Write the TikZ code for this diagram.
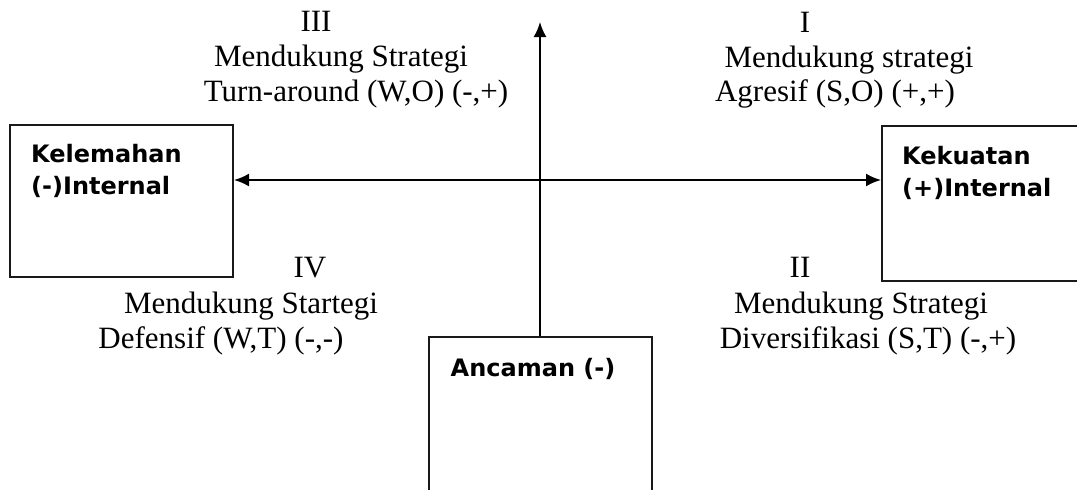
\documentclass[tikz,border=0pt]{standalone}
\usepackage{fontspec}
\setmainfont{Liberation Serif}
\newfontfamily\labelfont{DejaVu Sans}
\usetikzlibrary{arrows.meta,calc,positioning}
\tikzset{%
	kotak/.style  = {draw=black!90, line width=2pt, rectangle, inner sep=0pt},
	judul/.style  = {anchor=base west, inner sep=0pt, font=\labelfont\bfseries\fontsize{24}{29}\selectfont},
	teks/.style   = {anchor=base, inner sep=0pt, font=\fontsize{31}{37}\selectfont},
	sumbu/.style  = {line width=2pt, draw=black, {Latex[length=15pt,width=13pt]}-{Latex[length=15pt,width=13pt]}},
	panah/.style  = {line width=2pt, draw=black, -{Latex[length=15pt,width=13pt]}},
}
\begin{document}
\begin{tikzpicture}[x=1pt, y=-1pt]
	\useasboundingbox (0,0) rectangle (1077,490);
	\clip (0,0) rectangle (1077,490);
	\node[kotak, minimum width=223pt, minimum height=152pt] (lemah) at (121.5,201) {};
	\node[kotak, minimum width=300pt, minimum height=155pt] (kuat) at (1032,203.5) {};
	\node[kotak, minimum width=223pt, minimum height=190pt] (ancaman) at (540,432) {};
	\node[judul] (lemah1) at ([shift={(22,38)}]lemah.north west) {Kelemahan};
	\node[judul] (lemah2) at ([shift={(22,70)}]lemah.north west) {(-)Internal};
	\node[judul] (kuat1) at ([shift={(21,39)}]kuat.north west) {Kekuatan};
	\node[judul] (kuat2) at ([shift={(21,71)}]kuat.north west) {(+)Internal};
	\node[judul] (ancaman1) at ([shift={(23,40)}]ancaman.north west) {Ancaman (-)};
	\coordinate (pusat) at (540,180);
	\coordinate (atas) at (540,22);
	
	\draw[sumbu] (lemah.east |- pusat) -- (kuat.west |- pusat);
	\draw[panah] (ancaman.north) -- (ancaman.north |- atas);
	
	% kuadran
	\node[teks] (k3) at (316,31) {III};
	\node[teks] (k3a) at (341,66) {Mendukung Strategi};
	\node[teks] (k3b) at (356,101) {Turn-around (W,O) (-,+)};
	\node[teks] (k1) at (805,32) {I};
	\node[teks] (k1a) at (849,67) {Mendukung strategi};
	\node[teks] (k1b) at (835,101) {Agresif (S,O) (+,+)};
	\node[teks] (k4) at (310,277) {IV};
	\node[teks] (k4a) at (251,313) {Mendukung Startegi};
	\node[teks] (k4b) at (221,348) {Defensif (W,T) (-,-)};
	\node[teks] (k2) at (800,277) {II};
	\node[teks] (k2a) at (861,313) {Mendukung Strategi};
	\node[teks] (k2b) at (868,348) {Diversifikasi (S,T) (-,+)};
\end{tikzpicture}
\end{document}
